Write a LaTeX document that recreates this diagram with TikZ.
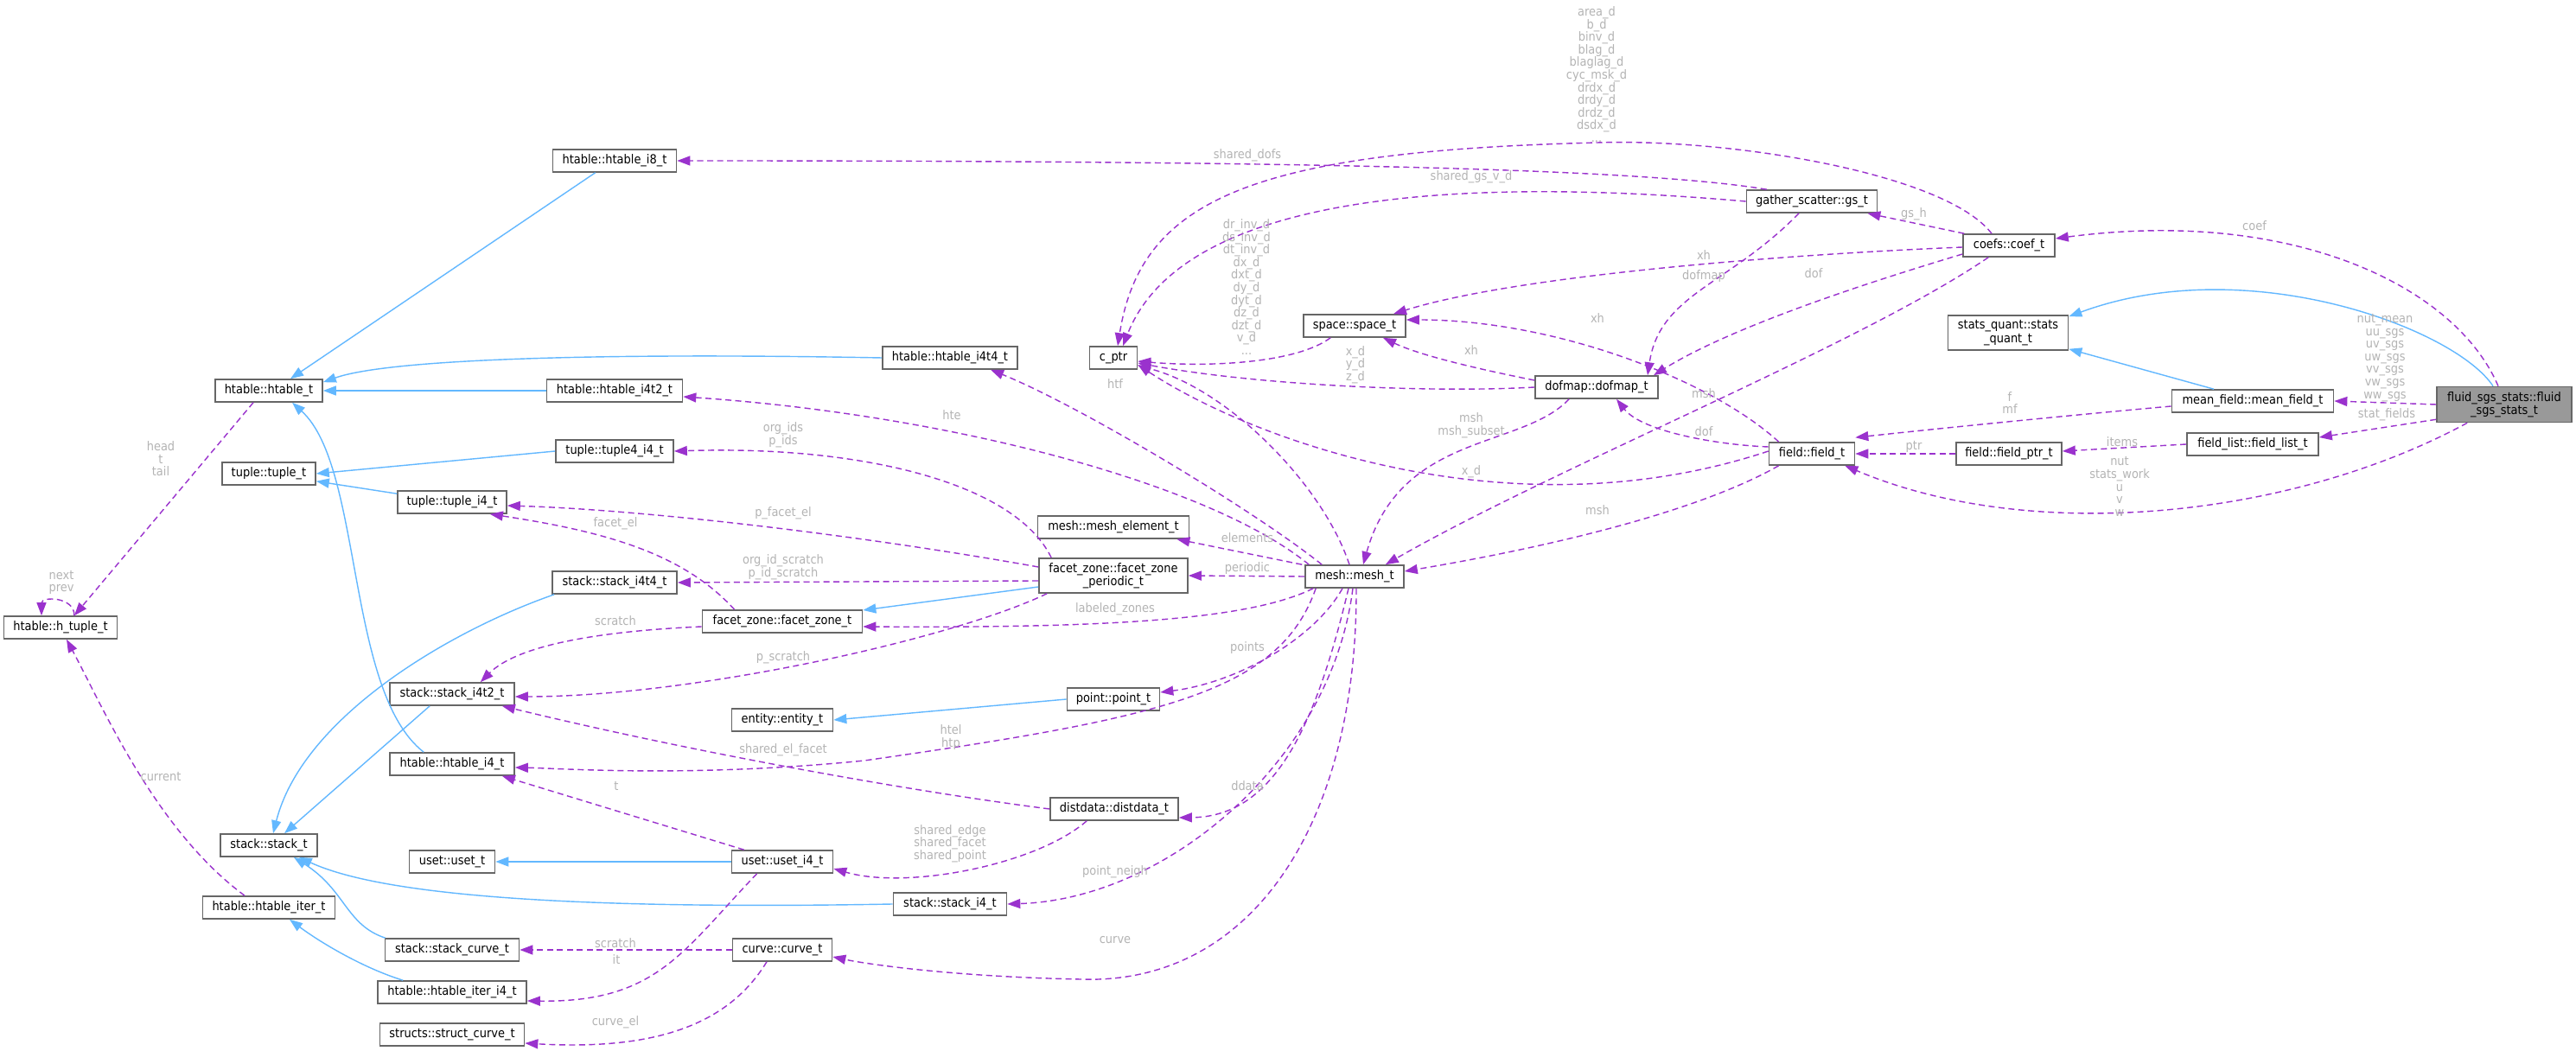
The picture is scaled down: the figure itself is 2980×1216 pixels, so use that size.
\documentclass[tikz,border=0pt]{standalone}
\usepackage{fontspec}
\setmainfont{DejaVu Sans Condensed}
\usetikzlibrary{arrows.meta,calc}
\definecolor{dep}{HTML}{9A32CD}
\definecolor{inh}{HTML}{63B8FF}
\definecolor{lblc}{HTML}{B4B4B4}
\begin{document}
\begin{tikzpicture}[x=0.01cm,y=-0.01cm,
  box/.style={draw=black!60,line width=0.45pt,fill=white,minimum height=0.26cm,inner sep=0pt,font=\fontsize{4.1}{4.4}\selectfont,align=center},
  box2/.style={box,minimum height=0.40cm},
  lbl/.style={text=lblc,inner sep=0pt,font=\fontsize{4.1}{4.15}\selectfont,align=center},
  dp/.style={draw=dep,line width=0.4pt,dash pattern=on 0.07cm off 0.045cm,-{Triangle[length=0.15cm,width=0.11cm,fill=dep]}},
  ih/.style={draw=inh,line width=0.4pt,-{Triangle[length=0.15cm,width=0.11cm,fill=inh]}}]
\useasboundingbox (0,0) rectangle (2980,1216);
\fill[white] (0,0) rectangle (2980,1216);
% nodes
\node[box,minimum width=1.43cm] (h8) at (711,186) {htable::htable\_i8\_t};
\node[box,minimum width=1.24cm] (ht) at (311,452) {htable::htable\_t};
\node[box,minimum width=1.56cm] (h44) at (1099,414) {htable::htable\_i4t4\_t};
\node[box,minimum width=1.57cm] (h42) at (711,452) {htable::htable\_i4t2\_t};
\node[box,minimum width=1.36cm] (t44) at (711,522) {tuple::tuple4\_i4\_t};
\node[box,minimum width=1.08cm] (tt) at (311,548) {tuple::tuple\_t};
\node[box,minimum width=1.26cm] (ti4) at (523,581) {tuple::tuple\_i4\_t};
\node[box,minimum width=1.31cm] (hts) at (70,726) {htable::h\_tuple\_t};
\node[box,minimum width=1.44cm] (s44) at (711,674) {stack::stack\_i4t4\_t};
\node[box,minimum width=1.85cm] (fz) at (905,719) {facet\_zone::facet\_zone\_t};
\node[box2,minimum width=1.72cm] (fzp) at (1288,666) {facet\_zone::facet\_zone\\\_periodic\_t};
\node[box,minimum width=1.75cm] (me) at (1288,610) {mesh::mesh\_element\_t};
\node[box,minimum width=1.14cm] (mesh) at (1567,667) {mesh::mesh\_t};
\node[box,minimum width=1.44cm] (s42) at (523,803) {stack::stack\_i4t2\_t};
\node[box,minimum width=1.17cm] (ent) at (905,833) {entity::entity\_t};
\node[box,minimum width=1.07cm] (pt) at (1288,809) {point::point\_t};
\node[box,minimum width=1.44cm] (hi4) at (523,884) {htable::htable\_i4\_t};
\node[box,minimum width=1.12cm] (st) at (311,978) {stack::stack\_t};
\node[box,minimum width=0.99cm] (us) at (523,997) {uset::uset\_t};
\node[box,minimum width=1.17cm] (usi) at (905,997) {uset::uset\_i4\_t};
\node[box,minimum width=1.48cm] (dd) at (1289,936) {distdata::distdata\_t};
\node[box,minimum width=1.53cm] (hit) at (311,1050) {htable::htable\_iter\_t};
\node[box,minimum width=1.31cm] (si4) at (1099,1046) {stack::stack\_i4\_t};
\node[box,minimum width=1.55cm] (sc) at (523,1099) {stack::stack\_curve\_t};
\node[box,minimum width=1.15cm] (cv) at (905,1099) {curve::curve\_t};
\node[box,minimum width=1.72cm] (hiti) at (523,1148) {htable::htable\_iter\_i4\_t};
\node[box,minimum width=1.67cm] (scv) at (523,1197) {structs::struct\_curve\_t};
\node[box,minimum width=0.55cm] (cp) at (1288,414) {c\_ptr};
\node[box,minimum width=1.18cm] (sp) at (1567,377) {space::space\_t};
\node[box,minimum width=1.42cm] (dm) at (1847,448) {dofmap::dofmap\_t};
\node[box,minimum width=1.51cm] (gs) at (2096,233) {gather\_scatter::gs\_t};
\node[box,minimum width=1.06cm] (cf) at (2324,284) {coefs::coef\_t};
\node[box2,minimum width=1.39cm] (sq) at (2323,385) {stats\_quant::stats\\\_quant\_t};
\node[box,minimum width=1.87cm] (mf) at (2606,464) {mean\_field::mean\_field\_t};
\node[box2,minimum width=1.56cm,minimum height=0.41cm,fill=black!40] (fs) at (2897,468) {fluid\_sgs\_stats::fluid\\\_sgs\_stats\_t};
\node[box,minimum width=1.52cm] (fl) at (2606,514) {field\_list::field\_list\_t};
\node[box,minimum width=1.22cm] (fp) at (2324,525) {field::field\_ptr\_t};
\node[box,minimum width=0.99cm] (f) at (2096,525) {field::field\_t};
% inheritance
\draw[ih] ($(h8.south west)+(50,0)$) -- ($(ht.north)+(25,0)$);
\draw[ih] (h44.west) .. controls (700,408) and (450,415) .. ($(ht.north east)+(0,4)$);
\draw[ih] (h42.west) -- (ht.east);
\draw[ih] ($(hi4.north west)+(40,0)$) .. controls (400,800) and (420,540) .. ($(ht.south)+(27,0)$);
\draw[ih] (t44.west) -- (tt.east);
\draw[ih] ($(ti4.north west)+(0,4)$) -- ($(tt.south east)+(0,-5)$);
\draw[ih] ($(s44.south west)+(3,0)$) .. controls (520,730) and (350,830) .. ($(st.north)+(5,0)$);
\draw[ih] ($(s42.south west)+(47,0)$) -- ($(st.north)+(18,0)$);
\draw[ih] (si4.west) .. controls (700,1052) and (450,1040) .. ($(st.south east)+(-22,0)$);
\draw[ih] ($(sc.north west)+(1,0)$) .. controls (400,1070) and (400,1030) .. ($(st.south east)+(-28,0)$);
\draw[ih] ($(hiti.north west)+(30,0)$) .. controls (420,1120) and (370,1090) .. ($(hit.south)+(24,0)$);
\draw[ih] (usi.west) -- (us.east);
\draw[ih] (pt.west) -- (ent.east);
\draw[ih] ($(fzp.west)+(0,13)$) -- ($(fz.east)+(0,-13)$);
\draw[ih] ($(mf.north)+(-45,0)$) -- ($(sq.south east)+(0,-2)$);
\draw[ih] ($(fs.north)+(-13,0)$) .. controls (2840,380) and (2600,290) .. ($(sq.north east)+(0,2)$);
% dependencies
\draw[dp] ($(hts.north)+(16,0)$) .. controls (86,690) and (48,690) .. ($(hts.north)+(-22,0)$);
\draw[dp] ($(ht.south)+(-18,0)$) -- ($(hts.north)+(16,0)$);
\draw[dp] ($(hit.north)+(-28,0)$) .. controls (180,960) and (120,820) .. ($(hts.south)+(7,0)$);
\draw[dp] ($(gs.north west)+(24,0)$) .. controls (1900,195) and (1500,186) .. (h8.east);
\draw[dp] ($(cf.north)+(-20,0)$) .. controls (2250,200) and (2000,160) .. (1848,165) .. controls (1450,175) and (1320,230) .. ($(cp.north)+(5,0)$);
\draw[dp] (gs.west) .. controls (1700,205) and (1370,220) .. ($(cp.north)+(11,0)$);
\draw[dp] ($(sp.south west)+(32,0)$) .. controls (1500,420) and (1400,425) .. ($(cp.east)+(0,4)$);
\draw[dp] (dm.west) .. controls (1650,455) and (1450,445) .. ($(cp.east)+(0,6)$);
\draw[dp] ($(f.west)+(0,-3)$) .. controls (1750,620) and (1450,510) .. ($(cp.east)+(0,8)$);
\draw[dp] ($(mesh.north west)+(20,0)$) .. controls (1450,590) and (1250,470) .. ($(h44.south)+(47,0)$);
\draw[dp] ($(mesh.north)+(-6,0)$) .. controls (1530,560) and (1420,450) .. ($(cp.east)+(0,9)$);
\draw[dp] ($(mesh.north west)+(5,0)$) .. controls (1400,560) and (1100,480) .. ($(h42.east)+(0,7)$);
\draw[dp] ($(fzp.north west)+(15,0)$) .. controls (1175,560) and (1000,515) .. (t44.east);
\draw[dp] ($(fzp.west)+(0,-10)$) .. controls (1000,620) and (750,590) .. ($(ti4.east)+(0,4)$);
\draw[dp] ($(fz.north west)+(38,0)$) .. controls (790,640) and (700,615) .. ($(ti4.south east)+(-20,0)$);
\draw[dp] ($(fzp.west)+(0,6)$) -- (s44.east);
\draw[dp] ($(fz.west)+(0,6)$) .. controls (700,730) and (600,745) .. ($(s42.north east)+(-40,0)$);
\draw[dp] ($(fzp.south west)+(10,0)$) .. controls (1100,740) and (800,806) .. ($(s42.east)+(0,3)$);
\draw[dp] (dd.west) .. controls (1050,915) and (800,870) .. ($(s42.south east)+(-15,0)$);
\draw[dp] ($(mesh.south west)+(13,0)$) .. controls (1480,800) and (1350,830) .. (1000,880) .. controls (800,900) and (650,889) .. ($(hi4.east)+(0,4)$);
\draw[dp] ($(usi.north west)+(15,0)$) -- ($(hi4.south east)+(-15,0)$);
\draw[dp] ($(dd.south west)+(43,0)$) .. controls (1200,1000) and (1050,1030) .. ($(usi.east)+(0,8)$);
\draw[dp] (cv.west) -- (sc.east);
\draw[dp] ($(usi.south west)+(30,0)$) .. controls (790,1100) and (760,1160) .. ($(hiti.east)+(0,10)$);
\draw[dp] ($(cv.south)+(-18,0)$) .. controls (840,1190) and (750,1215) .. ($(scv.east)+(0,10)$);
\draw[dp] ($(mesh.north west)+(-3,0)$) -- ($(me.south east)+(-15,0)$);
\draw[dp] (mesh.west) -- (fzp.east);
\draw[dp] ($(mesh.south west)+(10,0)$) .. controls (1450,715) and (1300,727) .. ($(fz.east)+(0,6)$);
\draw[dp] ($(mesh.south)+(-14,0)$) .. controls (1520,740) and (1430,790) .. ($(pt.east)+(0,-8)$);
\draw[dp] ($(mesh.south)+(-7,0)$) .. controls (1520,850) and (1470,945) .. ($(dd.east)+(0,10)$);
\draw[dp] ($(mesh.south)+(-2,0)$) .. controls (1540,880) and (1350,1040) .. (si4.east);
\draw[dp] ($(mesh.south)+(2,0)$) .. controls (1570,950) and (1450,1140) .. (1250,1133) .. controls (1100,1130) and (1000,1115) .. ($(cv.east)+(0,8)$);
\draw[dp] ($(dm.south west)+(40,0)$) .. controls (1760,520) and (1620,500) .. ($(mesh.north)+(10,0)$);
\draw[dp] ($(cf.south west)+(30,0)$) .. controls (2150,400) and (1800,540) .. ($(mesh.north east)+(-22,0)$);
\draw[dp] ($(f.south west)+(12,0)$) .. controls (1950,600) and (1750,640) .. ($(mesh.east)+(0,-6)$);
\draw[dp] ($(cf.west)+(0,2)$) .. controls (2050,295) and (1750,320) .. ($(sp.north)+(45,0)$);
\draw[dp] ($(dm.west)+(0,-8)$) .. controls (1700,425) and (1640,410) .. ($(sp.south)+(33,0)$);
\draw[dp] ($(f.north west)+(12,0)$) .. controls (1980,440) and (1800,370) .. ($(sp.east)+(0,-7)$);
\draw[dp] ($(gs.south)+(-15,0)$) .. controls (2000,330) and (1920,340) .. ($(dm.north)+(59,0)$);
\draw[dp] ($(cf.west)+(0,10)$) .. controls (2150,330) and (2000,380) .. ($(dm.north)+(66,0)$);
\draw[dp] ($(f.west)+(0,-8)$) .. controls (1990,515) and (1900,500) .. ($(dm.south)+(23,0)$);
\draw[dp] ($(cf.north west)+(2,0)$) -- ($(gs.south east)+(-12,0)$);
\draw[dp] ($(fs.north)+(-7,0)$) .. controls (2840,330) and (2650,240) .. ($(cf.east)+(0,-8)$);
\draw[dp] (fs.west) -- (mf.east);
\draw[dp] ($(fs.south west)+(0,-4)$) -- ($(fl.east)+(0,-8)$);
\draw[dp] ($(fs.south west)+(36,0)$) .. controls (2650,600) and (2350,630) .. ($(f.south east)+(-12,0)$);
\draw[dp] ($(mf.west)+(0,6)$) .. controls (2400,480) and (2250,495) .. ($(f.north east)+(0,-5)$);
\draw[dp] (fp.west) -- (f.east);
\draw[dp] (fl.west) -- ($(fp.east)+(0,-3)$);
% labels
\node[lbl] (l1) at (1847,86) {area\_d\\b\_d\\binv\_d\\blag\_d\\blaglag\_d\\cyc\_msk\_d\\drdx\_d\\drdy\_d\\drdz\_d\\dsdx\_d\\...};
\node[lbl] (l2) at (1442,332) {dr\_inv\_d\\ds\_inv\_d\\dt\_inv\_d\\dx\_d\\dxt\_d\\dy\_d\\dyt\_d\\dz\_d\\dzt\_d\\v\_d\\...};
\node[lbl] (l3) at (1568,422) {x\_d\\y\_d\\z\_d};
\node[lbl] (l4) at (1702,492) {msh\\msh\_subset};
\node[lbl] (l5) at (186,531) {head\\t\\tail};
\node[lbl] (l6) at (906,503) {org\_ids\\p\_ids};
\node[lbl] (l7) at (71,674) {next\\prev};
\node[lbl] (l8) at (906,656) {org\_id\_scratch\\p\_id\_scratch};
\node[lbl] (l9) at (1100,853) {htel\\htp};
\node[lbl] (l10) at (1099,976) {shared\_edge\\shared\_facet\\shared\_point};
\node[lbl] (l11) at (2759,414) {nut\_mean\\uu\_sgs\\uv\_sgs\\uw\_sgs\\vv\_sgs\\vw\_sgs\\ww\_sgs};
\node[lbl] (l12) at (2325,466) {f\\mf};
\node[lbl] (l13) at (2452,563) {nut\\stats\_work\\u\\v\\w};
\node[lbl] (l14) at (2608,261) {coef};
\node[lbl] (l15) at (2214,248) {gs\_h};
\node[lbl] (l16) at (2098,316) {dof};
\node[lbl] (l17) at (2761,480) {stat\_fields};
\node[lbl] (l18) at (2214,517) {ptr};
\node[lbl] (l19) at (2455,511) {items};
\node[lbl] (l20) at (1443,180) {shared\_dofs};
\node[lbl] (l21) at (1702,205) {shared\_gs\_v\_d};
\node[lbl] (l22) at (1290,444) {htf};
\node[lbl] (l23) at (1101,480) {hte};
\node[lbl] (l24) at (1971,295) {xh};
\node[lbl] (l25) at (1971,320) {dofmap};
\node[lbl] (l26) at (1971,455) {msh};
\node[lbl] (l27) at (1971,499) {dof};
\node[lbl] (l28) at (1702,405) {xh};
\node[lbl] (l29) at (1848,368) {xh};
\node[lbl] (l30) at (1702,546) {x\_d};
\node[lbl] (l31) at (1848,590) {msh};
\node[lbl] (l32) at (906,594) {p\_facet\_el};
\node[lbl] (l33) at (712,606) {facet\_el};
\node[lbl] (l34) at (712,718) {scratch};
\node[lbl] (l35) at (906,761) {p\_scratch};
\node[lbl] (l36) at (906,868) {shared\_el\_facet};
\node[lbl] (l37) at (186,899) {current};
\node[lbl] (l38) at (713,909) {t};
\node[lbl] (l39) at (712,1091) {scratch};
\node[lbl] (l40) at (713,1110) {it};
\node[lbl] (l41) at (712,1183) {curve\_el};
\node[lbl] (l42) at (1443,622) {elements};
\node[lbl] (l43) at (1443,658) {periodic};
\node[lbl] (l44) at (1290,705) {labeled\_zones};
\node[lbl] (l45) at (1443,750) {points};
\node[lbl] (l46) at (1443,909) {ddata};
\node[lbl] (l47) at (1290,1009) {point\_neigh};
\node[lbl] (l48) at (1290,1088) {curve};
\end{tikzpicture}
\end{document}
